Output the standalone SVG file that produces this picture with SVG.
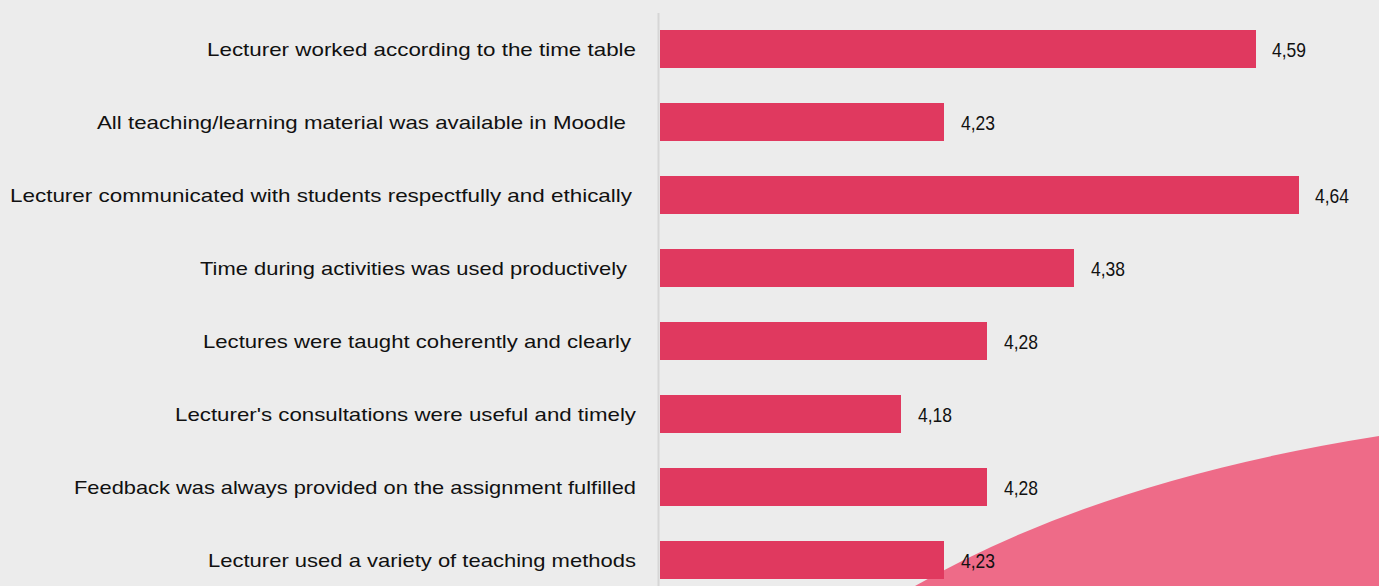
<svg xmlns="http://www.w3.org/2000/svg" width="1379" height="586" viewBox="0 0 1379 586">
<style>
.lbl{font-family:"Liberation Sans",Arial,sans-serif;font-size:19px;fill:#111;text-anchor:end}
.val{font-family:"Liberation Sans",Arial,sans-serif;font-size:21px;fill:#111}
.bar{fill:#e0395f}
</style>
<rect x="0" y="0" width="1379" height="586" fill="#ececec"/>
<path id="decor" d="M915 586 Q1100 480 1379 436 L1379 586 Z" fill="#ee6b88"/>
<g id="axis"><line x1="658.5" y1="13" x2="658.5" y2="586" stroke="#d6d6d6" stroke-width="2"/></g>
<g id="row1"><rect class="bar" x="660" y="30" width="596" height="38"/><text class="lbl" x="636" y="56" textLength="429" lengthAdjust="spacingAndGlyphs">Lecturer worked according to the time table</text><text class="val" x="1272" y="56.5" textLength="34" lengthAdjust="spacingAndGlyphs">4,59</text></g>
<g id="row2"><rect class="bar" x="660" y="103" width="284" height="38"/><text class="lbl" x="626" y="129" textLength="529" lengthAdjust="spacingAndGlyphs">All teaching/learning material was available in Moodle</text><text class="val" x="961" y="129.5" textLength="34" lengthAdjust="spacingAndGlyphs">4,23</text></g>
<g id="row3"><rect class="bar" x="660" y="176" width="639" height="38"/><text class="lbl" x="632" y="202" textLength="622" lengthAdjust="spacingAndGlyphs">Lecturer communicated with students respectfully and ethically</text><text class="val" x="1315" y="202.5" textLength="34" lengthAdjust="spacingAndGlyphs">4,64</text></g>
<g id="row4"><rect class="bar" x="660" y="249" width="414" height="38"/><text class="lbl" x="627" y="275" textLength="427" lengthAdjust="spacingAndGlyphs">Time during activities was used productively</text><text class="val" x="1091" y="275.5" textLength="34" lengthAdjust="spacingAndGlyphs">4,38</text></g>
<g id="row5"><rect class="bar" x="660" y="322" width="327" height="38"/><text class="lbl" x="631" y="348" textLength="428" lengthAdjust="spacingAndGlyphs">Lectures were taught coherently and clearly</text><text class="val" x="1004" y="348.5" textLength="34" lengthAdjust="spacingAndGlyphs">4,28</text></g>
<g id="row6"><rect class="bar" x="660" y="395" width="241" height="38"/><text class="lbl" x="636" y="421" textLength="461" lengthAdjust="spacingAndGlyphs">Lecturer's consultations were useful and timely</text><text class="val" x="918" y="421.5" textLength="34" lengthAdjust="spacingAndGlyphs">4,18</text></g>
<g id="row7"><rect class="bar" x="660" y="468" width="327" height="38"/><text class="lbl" x="636" y="494" textLength="562" lengthAdjust="spacingAndGlyphs">Feedback was always provided on the assignment fulfilled</text><text class="val" x="1004" y="494.5" textLength="34" lengthAdjust="spacingAndGlyphs">4,28</text></g>
<g id="row8"><rect class="bar" x="660" y="541" width="284" height="38"/><text class="lbl" x="636" y="567" textLength="428" lengthAdjust="spacingAndGlyphs">Lecturer used a variety of teaching methods</text><text class="val" x="961" y="567.5" textLength="34" lengthAdjust="spacingAndGlyphs">4,23</text></g>
</svg>
